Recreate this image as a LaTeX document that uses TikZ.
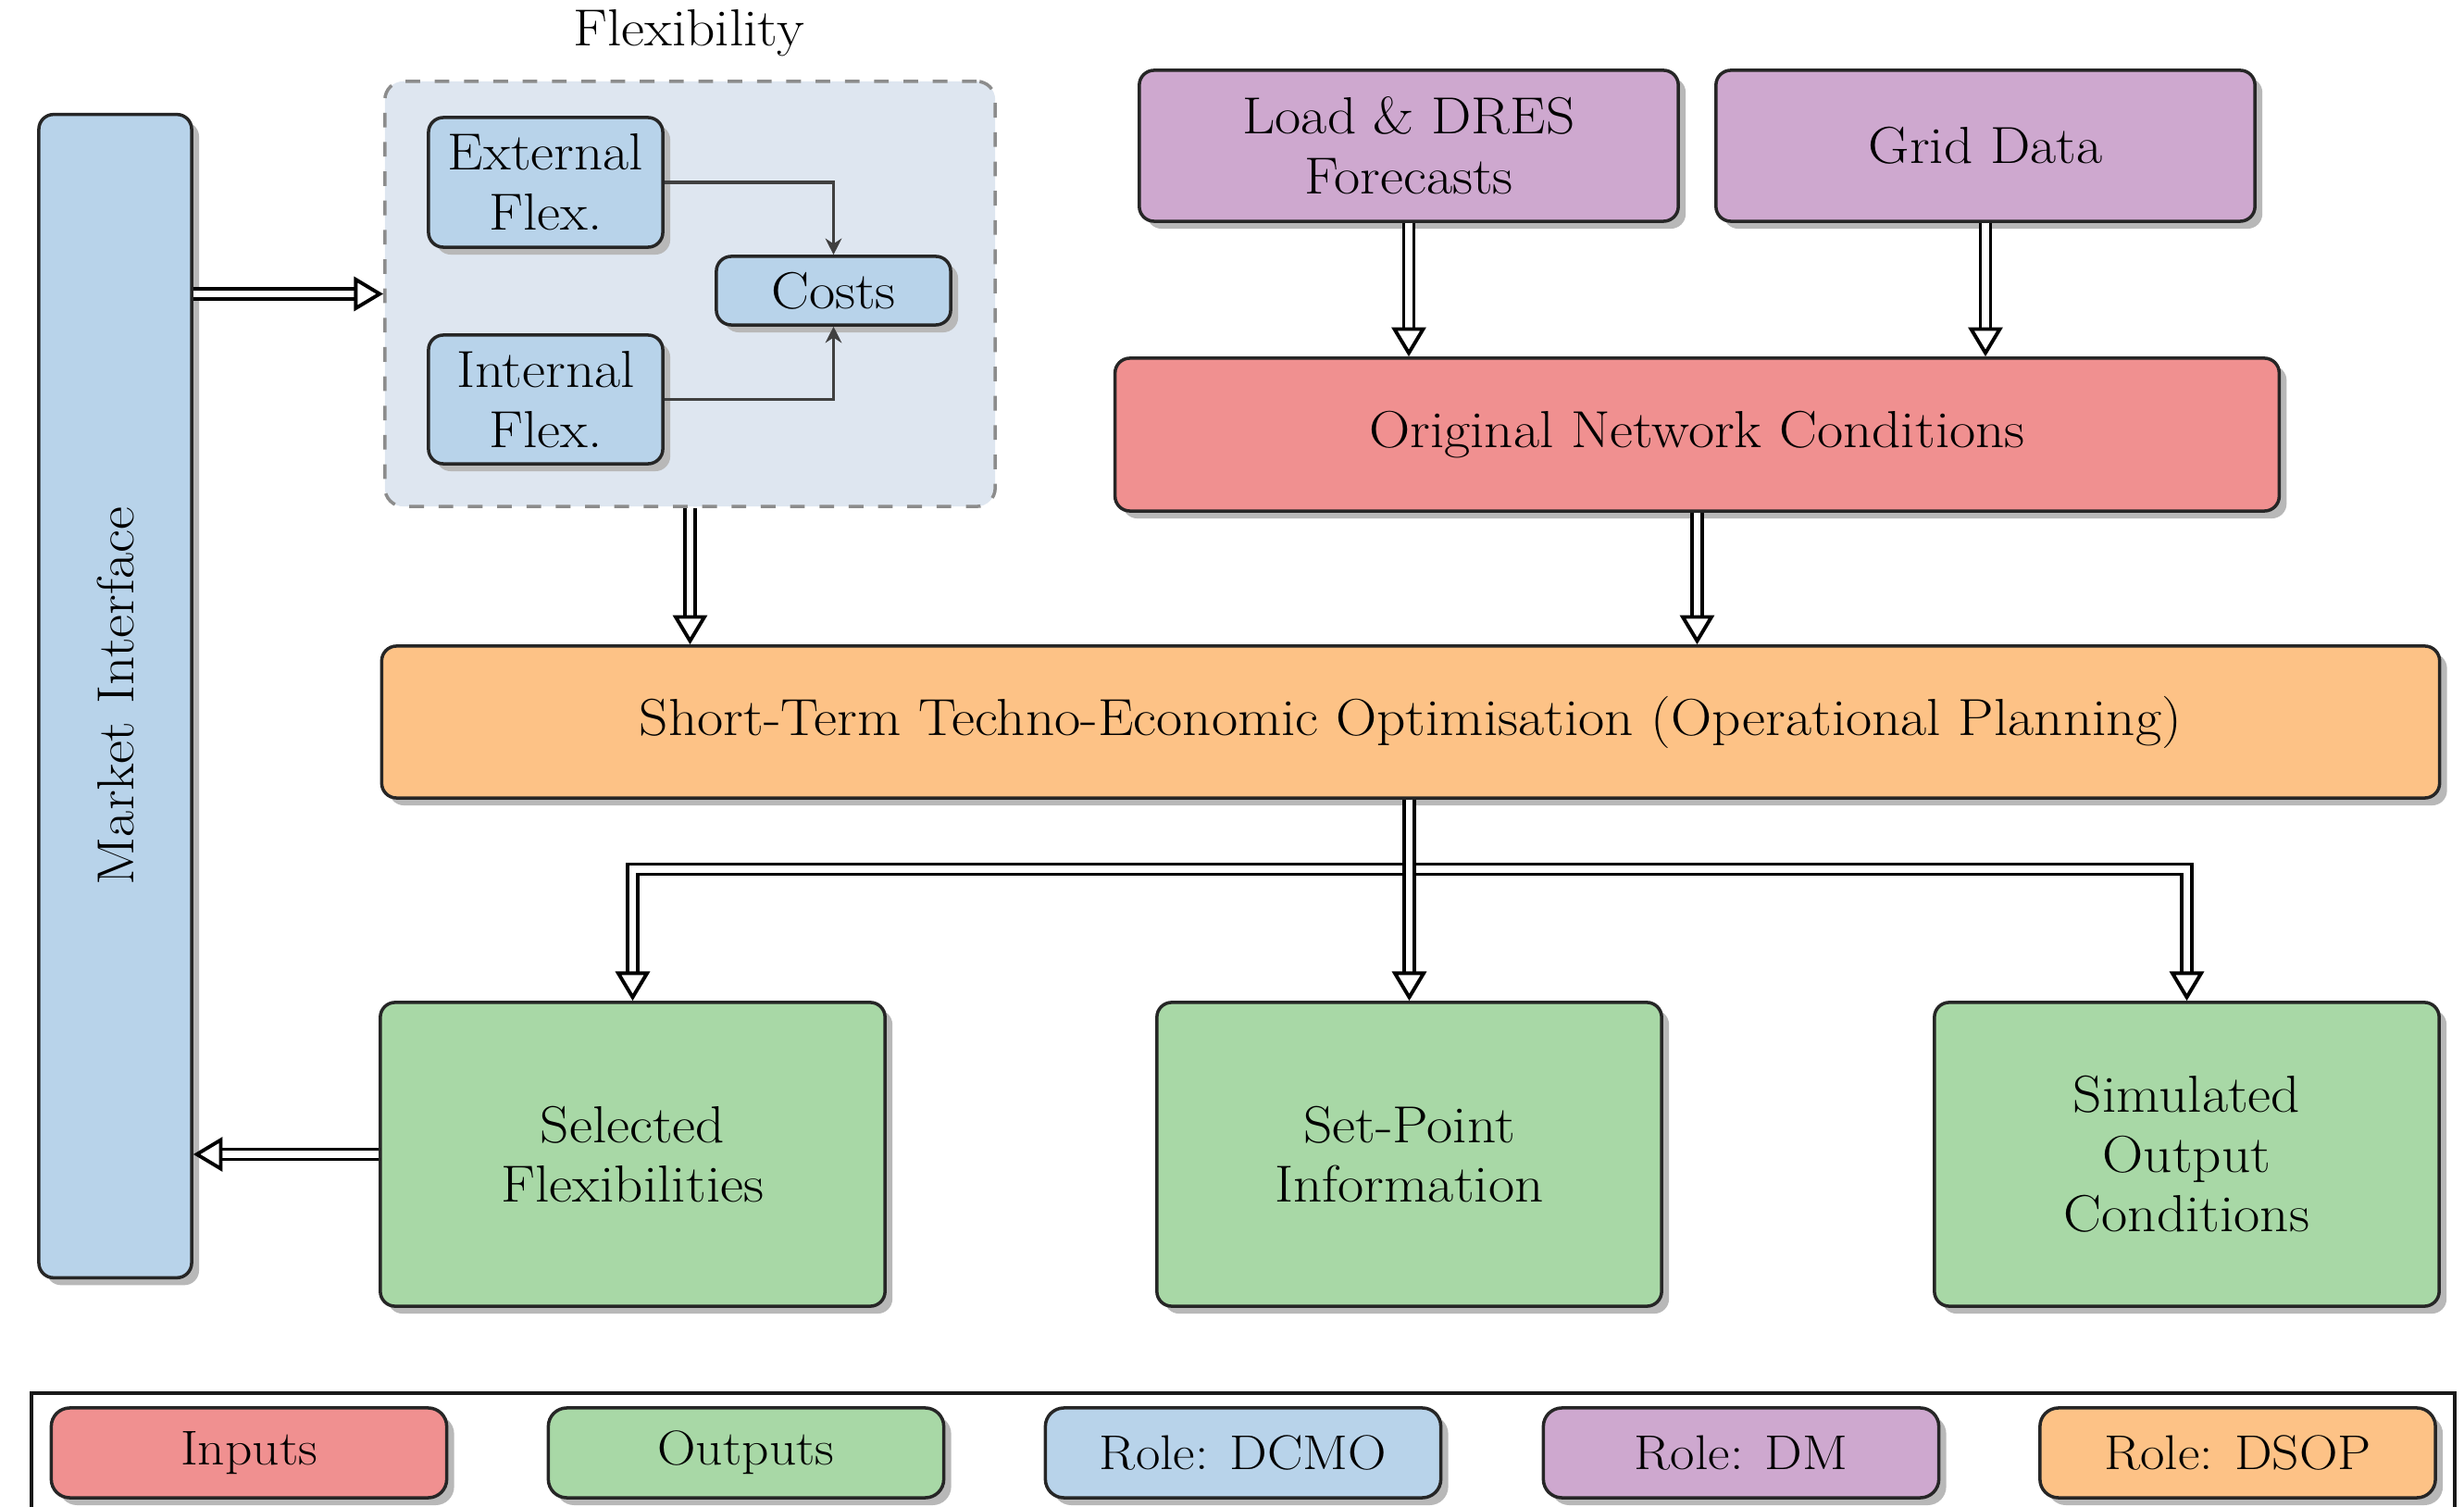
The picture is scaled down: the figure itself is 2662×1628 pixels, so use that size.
\documentclass[tikz,border=0pt]{standalone}
\usepackage{fontspec}
\setmainfont{Latin Modern Roman}[FakeStretch=1.09]
\usetikzlibrary{arrows.meta,shadows,calc}
\definecolor{cblue}{RGB}{184,211,234}
\definecolor{cpurple}{RGB}{206,168,207}
\definecolor{cred}{RGB}{240,144,144}
\definecolor{corange}{RGB}{253,194,134}
\definecolor{cgreen}{RGB}{168,216,166}
\definecolor{cflex}{RGB}{222,230,240}
\begin{document}
\begin{tikzpicture}[x=0.01cm,y=-0.01cm,
  font=\fontsize{16}{18.4}\selectfont,
  box/.style={draw=black!85, line width=1pt, rounded corners=0.16cm, align=center,
    inner sep=0pt,
    drop shadow={shadow xshift=0.08cm, shadow yshift=-0.08cm, fill=black!28, opacity=1}},
  legbox/.style={box, rounded corners=0.2cm, minimum width=4.27cm, minimum height=0.97cm,
    font=\fontsize{15}{17}\selectfont},
  flexframe/.style={draw=black!45, line width=1pt, dash pattern=on 4.5pt off 4.5pt,
    fill=cflex, rounded corners=0.2cm},
  dblarrow/.style={double=white, double distance=2pt, line width=1.1pt, draw=black,
    -{Triangle[open, length=9pt, width=10.5pt]}},
  thinarrow/.style={line width=1pt, draw=black!75, -{Stealth[length=5pt, width=5pt]}}
]
\useasboundingbox (0,0) rectangle (2662,1628);

% Market interface
\node[box, fill=cblue, minimum width=1.65cm, minimum height=12.56cm] (mi) at (124.5,752) {};
\node[rotate=90] (milabel) at (mi.center) {Market Interface};

% Flexibility group
\node[flexframe, minimum width=6.59cm, minimum height=4.59cm] (flexbox) at (745.5,317.5) {};
\node (flextitle) at (744,36) {Flexibility};
\node[box, fill=cblue, minimum width=2.53cm, minimum height=1.40cm] (ext) at (589.5,197) {External\\Flex.};
\node[box, fill=cblue, minimum width=2.53cm, minimum height=1.39cm] (int) at (589.5,431.5) {Internal\\Flex.};
\node[box, fill=cblue, minimum width=2.53cm, minimum height=0.74cm] (costs) at (900.5,314) {Costs};

% Inputs
\node[box, fill=cpurple, minimum width=5.82cm, minimum height=1.63cm] (load) at (1522,157.5) {Load \& DRES\\Forecasts};
\node[box, fill=cpurple, minimum width=5.82cm, minimum height=1.63cm] (grid) at (2145,157.5) {Grid Data};
\node[box, fill=cred, minimum width=12.57cm, minimum height=1.65cm] (onc) at (1833.5,469.5) {Original Network Conditions};
\node[box, fill=corange, minimum width=22.22cm, minimum height=1.64cm] (sto) at (1524,780) {Short-Term Techno-Economic Optimisation (Operational Planning)};

% Outputs
\node[box, fill=cgreen, minimum width=5.45cm, minimum height=3.28cm] (sel) at (683.5,1247) {Selected\\Flexibilities};
\node[box, fill=cgreen, minimum width=5.45cm, minimum height=3.28cm] (setp) at (1522.5,1247) {Set-Point\\Information};
\node[box, fill=cgreen, minimum width=5.45cm, minimum height=3.28cm] (sim) at (2362.5,1247) {Simulated\\Output\\Conditions};

% Inner connectors
\draw[thinarrow] (ext.east) -| (costs.north);
\draw[thinarrow] (int.east) -| (costs.south);

% Double connectors
\draw[dblarrow] (mi.east |- flexbox.west) -- (flexbox.west);
\draw[dblarrow] (sel.west) -- (sel.west -| mi.east);
\draw[dblarrow] (flexbox.south) -- (flexbox.south |- sto.north);
\draw[dblarrow] (load.south) -- (load.south |- onc.north);
\draw[dblarrow] (grid.south) -- (grid.south |- onc.north);
\draw[dblarrow] (onc.south) -- (onc.south |- sto.north);
\coordinate (split) at (1522.5,939);
\draw[dblarrow] (split |- sto.south) -- (split) -| (sel.north);
\draw[dblarrow] (split |- sto.south) -- (split) -| (sim.north);
\draw[dblarrow] (split |- sto.south) -- (setp.north);

% Legend
\draw[line width=0.9pt, draw=black!90] (34,1505) rectangle (2652,1645);
\node[legbox, fill=cred] (lin) at (269,1569.5) {Inputs};
\node[legbox, fill=cgreen] (lout) at (806,1569.5) {Outputs};
\node[legbox, fill=cblue] (ldcmo) at (1343,1569.5) {Role: DCMO};
\node[legbox, fill=cpurple] (ldm) at (1881,1569.5) {Role: DM};
\node[legbox, fill=corange] (ldsop) at (2417.5,1569.5) {Role: DSOP};
\end{tikzpicture}
\end{document}
